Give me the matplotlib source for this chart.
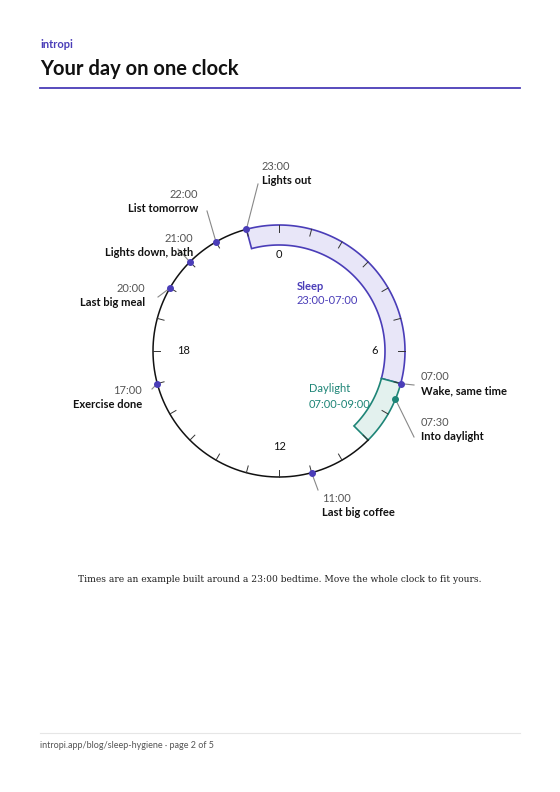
import numpy as np
import matplotlib
matplotlib.use("Agg")
import matplotlib.pyplot as plt

plt.rcParams['font.family'] = ['Lato', 'DejaVu Sans']

event_hours = [23.0, 22.0, 21.0, 20.0, 17.0, 11.0, 7.0, 7.5]
event_times = ["23:00", "22:00", "21:00", "20:00", "17:00", "11:00", "07:00", "07:30"]
event_labels = ["Lights out", "List tomorrow", "Lights down, bath", "Last big meal",
                "Exercise done", "Last big coffee", "Wake, same time", "Into daylight"]
band_names = ["Sleep", "Daylight"]
band_start = [23.0, 7.0]
band_end = [7.0, 9.0]
hour_labels = ["0", "6", "12", "18"]

PURPLE = "#4a3db8"
TEAL = "#1e8577"
label_layout = [
    (262, 166, "left", (258, 184)),
    (198, 195, "right", (207, 211)),
    (193, 238, "right", (178, 249)),
    (145, 289, "right", (158, 297)),
    (142, 390, "right", (152, 389)),
    (322, 498, "left", (318, 490)),
    (421, 377, "left", (414, 385)),
    (421, 422, "left", (414, 437)),
]
event_colors = [PURPLE]*7 + [TEAL]

fig = plt.figure(figsize=(5.6, 7.92), dpi=100)
ax = fig.add_axes([0, 0, 1, 1])
ax.set_xlim(0, 560); ax.set_ylim(792, 0); ax.set_aspect("equal"); ax.axis("off")

cx, cy, R, Rin = 279, 351, 126, 106

def pos(h, r):
    a = np.deg2rad(h * 15)
    return cx + r*np.sin(a), cy - r*np.cos(a)

ax.text(40, 45, "intropi", color=PURPLE, fontsize=8, fontweight="bold", va="center")
ax.text(40, 69, "Your day on one clock", color="#111111", fontsize=14.5, fontweight="bold", va="center")
ax.plot([40, 520], [88, 88], color=PURPLE, lw=1.3)

fills = ["#e8e6f8", "#e3f1ee"]
edges = [PURPLE, TEAL]
for s, e, fc, ec in zip(band_start, band_end, fills, edges):
    hs = np.linspace(s, s + ((e - s) % 24), 100)
    outer = [pos(h, R) for h in hs]
    inner = [pos(h, Rin) for h in hs[::-1]]
    pts = np.array(outer + inner + [outer[0]])
    ax.fill(pts[:, 0], pts[:, 1], facecolor=fc, edgecolor=ec, lw=1.2, zorder=2)

hs = np.linspace(9, 23, 300)
pts = np.array([pos(h, R) for h in hs])
ax.plot(pts[:, 0], pts[:, 1], color="#111111", lw=1.1, zorder=3)
for h in range(24):
    x1, y1 = pos(h, R); x2, y2 = pos(h, R-7)
    ax.plot([x1, x2], [y1, y2], color="#333333", lw=0.7, zorder=3)
for i, t in enumerate(hour_labels):
    x, y = pos(i*6, 96)
    ax.text(x, y, t, ha="center", va="center", fontsize=8, color="#111111")

ax.text(297, 286, "Sleep", color=PURPLE, fontsize=8, fontweight="bold", va="center")
ax.text(297, 300, "23:00-07:00", color=PURPLE, fontsize=8, va="center")
ax.text(309, 389, "Daylight", color=TEAL, fontsize=8, va="center")
ax.text(309, 404, "07:00-09:00", color=TEAL, fontsize=8, va="center")

for h, t, lab, (lx, ly, al, le), c in zip(event_hours, event_times, event_labels, label_layout, event_colors):
    x, y = pos(h, R)
    ax.plot([x, le[0]], [y, le[1]], color="#888888", lw=0.8, zorder=3)
    ax.plot(x, y, "o", color=c, ms=4, zorder=5)
    ax.text(lx, ly, t, ha=al, va="center", fontsize=8, color="#555555")
    ax.text(lx, ly+14, lab, ha=al, va="center", fontsize=8, color="#111111", fontweight="bold")

ax.text(280, 579, "Times are an example built around a 23:00 bedtime. Move the whole clock to fit yours.",
        ha="center", va="center", fontsize=6.6, family=["DejaVu Serif"], color="#222222")
ax.plot([40, 520], [733, 733], color="#e6e6e6", lw=0.8)
ax.text(40, 746, "intropi.app/blog/sleep-hygiene \u00b7 page 2 of 5", fontsize=6.5, color="#555555", va="center")

fig.savefig("out.png", dpi=100)
